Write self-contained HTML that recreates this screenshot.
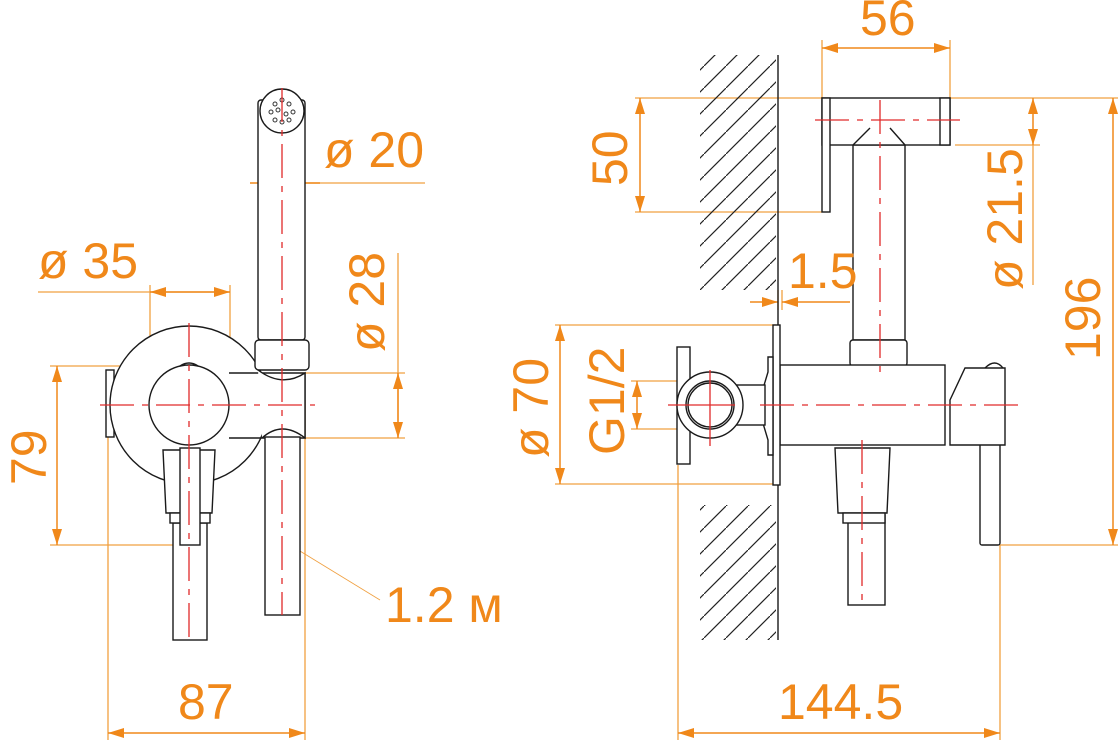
<!DOCTYPE html>
<html><head><meta charset="utf-8"><style>
html,body{margin:0;padding:0;background:#fff}
svg{display:block}
text{font-family:"Liberation Sans",sans-serif;fill:#f0881a}
</style></head><body>
<svg width="1118" height="743" viewBox="0 0 1118 743" xmlns="http://www.w3.org/2000/svg">
<defs>
<marker id="a" viewBox="0 0 16 10" refX="16" refY="5" markerWidth="16" markerHeight="10" markerUnits="userSpaceOnUse" orient="auto-start-reverse"><path d="M0,0 L16,5 L0,10z" fill="#f0881a"/></marker>
<pattern id="h" width="22" height="22" patternUnits="userSpaceOnUse"><path d="M-2,24 L24,-2" stroke="#222" stroke-width="1.2"/></pattern>
</defs>
<g stroke="#f0a040" stroke-width="1.3" fill="none">
<line x1="258" y1="183" x2="425" y2="183"/>
<line x1="38" y1="292" x2="230" y2="292"/>
<line x1="150" y1="285" x2="150" y2="405"/>
<line x1="230" y1="285" x2="230" y2="380"/>
<line x1="300" y1="373" x2="405" y2="373"/>
<line x1="300" y1="438" x2="405" y2="438"/>
<line x1="398" y1="253" x2="398" y2="438"/>
<line x1="50" y1="366" x2="190" y2="366"/>
<line x1="50" y1="545" x2="185" y2="545"/>
<line x1="108" y1="420" x2="108" y2="740"/>
<line x1="305" y1="400" x2="305" y2="740"/>
<line x1="295" y1="548" x2="380" y2="600" stroke-width="0.8"/>
<line x1="822" y1="40" x2="822" y2="98"/>
<line x1="950" y1="40" x2="950" y2="98"/>
<line x1="635" y1="98" x2="822" y2="98"/>
<line x1="635" y1="212" x2="822" y2="212"/>
<line x1="950" y1="98" x2="1118" y2="98"/>
<line x1="955" y1="145" x2="1040" y2="145"/>
<line x1="1033" y1="145" x2="1033" y2="285"/>
<line x1="1000" y1="545" x2="1118" y2="545"/>
<line x1="778" y1="290" x2="778" y2="310"/>
<line x1="782" y1="290" x2="782" y2="310"/>
<line x1="555" y1="325" x2="776" y2="325"/>
<line x1="555" y1="484" x2="776" y2="484"/>
<line x1="631" y1="381" x2="710" y2="381"/>
<line x1="631" y1="429" x2="710" y2="429"/>
<line x1="678" y1="465" x2="678" y2="740"/>
<line x1="1000" y1="545" x2="1000" y2="740"/>
</g>
<g stroke="#f0881a" stroke-width="1.5" fill="none">
<line x1="320" y1="183" x2="258" y2="183" marker-end="url(#a)"/>
<line x1="250" y1="183" x2="304" y2="183" marker-end="url(#a)"/>
<line x1="150" y1="292" x2="230" y2="292" marker-start="url(#a)" marker-end="url(#a)"/>
<line x1="398" y1="373" x2="398" y2="438" marker-start="url(#a)" marker-end="url(#a)"/>
<line x1="57" y1="366" x2="57" y2="545" marker-start="url(#a)" marker-end="url(#a)"/>
<line x1="108" y1="733" x2="305" y2="733" marker-start="url(#a)" marker-end="url(#a)"/>
<line x1="822" y1="48" x2="950" y2="48" marker-start="url(#a)" marker-end="url(#a)"/>
<line x1="640" y1="98" x2="640" y2="212" marker-start="url(#a)" marker-end="url(#a)"/>
<line x1="1033" y1="98" x2="1033" y2="145" marker-start="url(#a)" marker-end="url(#a)"/>
<line x1="1113" y1="98" x2="1113" y2="545" marker-start="url(#a)" marker-end="url(#a)"/>
<line x1="750" y1="302" x2="778" y2="302" marker-end="url(#a)"/>
<line x1="850" y1="302" x2="782" y2="302" marker-end="url(#a)"/>
<line x1="560" y1="325" x2="560" y2="484" marker-start="url(#a)" marker-end="url(#a)"/>
<line x1="637" y1="381" x2="637" y2="429" marker-start="url(#a)" marker-end="url(#a)"/>
<line x1="678" y1="733" x2="1000" y2="733" marker-start="url(#a)" marker-end="url(#a)"/>
</g>
<rect x="700" y="55" width="76" height="235" fill="url(#h)"/>
<rect x="700" y="505" width="76" height="135" fill="url(#h)"/>
<g stroke="#1a1a1a" stroke-width="1.4" fill="#fff">
<rect x="106" y="370" width="8" height="67"/>
<circle cx="189" cy="405" r="79"/>
<path d="M229,373 L305,373 L305,438 L229,438" fill="none"/>
<rect x="258" y="100" width="47" height="240" rx="3"/>
<circle cx="282" cy="111" r="22"/>
<rect x="255" y="340" width="54" height="30" rx="4"/>
<path d="M258,370 Q282,388 305,373 L305,438 Q282,420 262,438" />
<rect x="265" y="437" width="35" height="178"/>
<circle cx="189" cy="405" r="40"/>
<path d="M180,366 Q189,360 198,366" fill="none"/>
<rect x="173" y="523" width="34" height="117"/>
<path d="M163,450 L215,450 L212,513 L166,513z"/>
<rect x="170" y="513" width="40" height="10"/>
<rect x="180" y="448" width="20" height="97"/>
<line x1="778" y1="55" x2="778" y2="640"/>
<rect x="853" y="145" width="52" height="195"/>
<rect x="822" y="98" width="128" height="47"/>
<rect x="940" y="98" width="10" height="47"/>
<rect x="822" y="98" width="8" height="114"/>
<path d="M853,145 L870,128 M905,145 L890,128" fill="none"/>
<rect x="850" y="340" width="57" height="26" rx="3"/>
<rect x="848" y="515" width="37" height="90"/>
<path d="M835,448 L890,448 L887,513 L838,513z"/>
<rect x="843" y="513" width="42" height="10"/>
<rect x="780" y="365" width="165" height="80"/>
<rect x="773" y="325" width="7" height="160"/>
<path d="M768,357 L773,357 L773,455 L768,455 L768,440 L762,420 L762,392 L768,372z"/>
<rect x="735" y="385" width="30" height="40"/>
<rect x="677" y="347" width="13" height="117"/>
<circle cx="710" cy="405" r="33"/>
<circle cx="710" cy="405" r="24"/>
<circle cx="710" cy="405" r="22" fill="none"/>
<rect x="980" y="443" width="20" height="102" rx="2"/>
<path d="M950,445 L950,400 L965,368 L1005,368 L1005,445z"/>
<path d="M985,368 Q995,358 1003,368" fill="none"/>
</g>
<g fill="none" stroke="#333" stroke-width="1">
<circle cx="275" cy="104" r="2"/><circle cx="289" cy="104" r="2"/><circle cx="271" cy="112" r="2"/><circle cx="293" cy="112" r="2"/><circle cx="275" cy="120" r="2"/><circle cx="289" cy="120" r="2"/><circle cx="282" cy="100" r="2"/><circle cx="282" cy="122" r="2"/><circle cx="278" cy="110" r="2"/><circle cx="286" cy="114" r="2"/>
</g>
<g stroke="#e02a2a" stroke-width="1.3" stroke-dasharray="34,8,6,8" fill="none">
<line x1="282" y1="88" x2="282" y2="615"/>
<line x1="189" y1="323" x2="189" y2="640"/>
<line x1="100" y1="405" x2="315" y2="405"/>
<line x1="760" y1="405" x2="1020" y2="405"/>
<line x1="880" y1="100" x2="880" y2="375"/>
<line x1="815" y1="120" x2="960" y2="120"/>
<line x1="862" y1="440" x2="862" y2="600"/>
</g>
<g stroke="#e02a2a" stroke-width="1.3" fill="none">
<line x1="668" y1="405" x2="735" y2="405"/>
<line x1="710" y1="370" x2="710" y2="446"/>
</g>
<g font-size="50">
<text x="324" y="167">ø 20</text>
<text x="38" y="278">ø 35</text>
<text x="384" y="352" transform="rotate(-90 384 352)">ø 28</text>
<text x="46" y="485" transform="rotate(-90 46 485)">79</text>
<text x="178" y="719">87</text>
<text x="385" y="622">1.2 м</text>
<text x="860" y="35">56</text>
<text x="627" y="186" transform="rotate(-90 627 186)">50</text>
<text x="1022" y="290" transform="rotate(-90 1022 290)">ø 21.5</text>
<text x="1100" y="360" transform="rotate(-90 1100 360)">196</text>
<text x="788" y="288">1.5</text>
<text x="548" y="458" transform="rotate(-90 548 458)">ø 70</text>
<text x="624" y="455" transform="rotate(-90 624 455)">G1/2</text>
<text x="778" y="719">144.5</text>
</g>
</svg>
</body></html>
